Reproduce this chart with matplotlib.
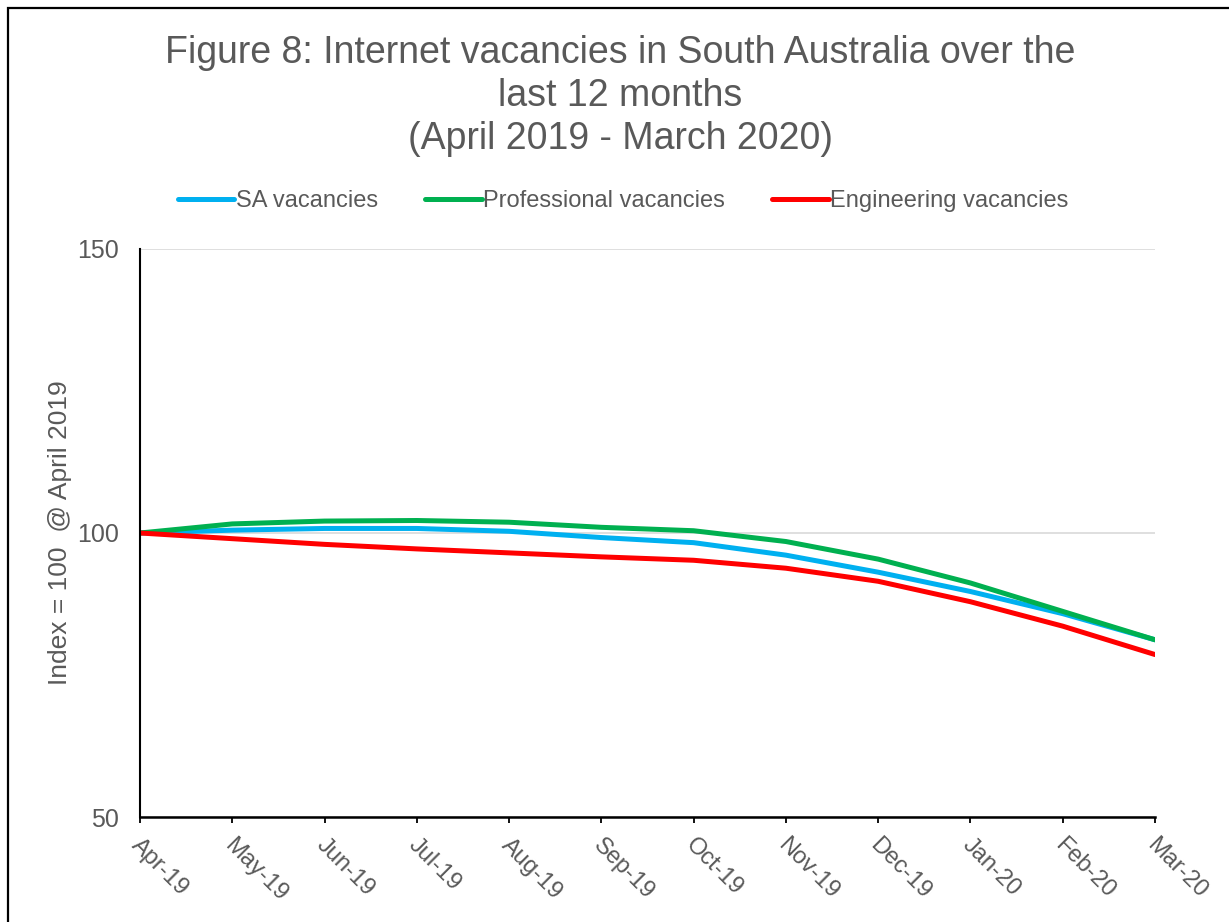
import matplotlib
matplotlib.use("Agg")
import matplotlib.pyplot as plt
from matplotlib.patches import Rectangle
from matplotlib.transforms import ScaledTranslation

plt.rcParams['font.family'] = ['Liberation Sans', 'DejaVu Sans']

months = ["Apr-19", "May-19", "Jun-19", "Jul-19", "Aug-19", "Sep-19",
          "Oct-19", "Nov-19", "Dec-19", "Jan-20", "Feb-20", "Mar-20"]
sa_vac = [100.0, 100.5, 100.8, 100.8, 100.3, 99.2, 98.3, 96.1, 93.1, 89.7, 85.8, 81.2]
prof_vac = [100.0, 101.6, 102.1, 102.2, 101.9, 101.0, 100.4, 98.5, 95.4, 91.2, 86.2, 81.2]
eng_vac = [100.0, 99.0, 98.0, 97.2, 96.5, 95.8, 95.2, 93.8, 91.5, 87.9, 83.6, 78.6]

series_names = ["SA vacancies", "Professional vacancies", "Engineering vacancies"]
colors = ["#00B0F0", "#00B050", "#FF0000"]

W, H = 1229, 922
fig = plt.figure(figsize=(W/100, H/100), dpi=100)
fig.patches.append(Rectangle((8/W, -0.1), 1.2, 1 - 8/H + 0.1, transform=fig.transFigure,
                             fill=False, edgecolor='black', linewidth=1.6))

ax = fig.add_axes([140/W, 1 - 817/H, (1155-140)/W, (817-249)/H])
x = list(range(len(months)))
for vals, name, c in zip([sa_vac, prof_vac, eng_vac], series_names, colors):
    ax.plot(x, vals, color=c, lw=3.6, label=name, solid_capstyle='round')

ax.set_xlim(0, len(months) - 1)
ax.set_ylim(50, 150)
ax.set_yticks([50, 100, 150])
ax.yaxis.grid(True, color='#D9D9D9', lw=1.2)
ax.set_axisbelow(True)
for s in ['top', 'right']:
    ax.spines[s].set_visible(False)
ax.spines['left'].set_color('black')
ax.spines['left'].set_linewidth(1.5)
ax.spines['bottom'].set_color('black')
ax.spines['bottom'].set_linewidth(1.8)
ax.tick_params(axis='y', length=0, labelsize=18, labelcolor='#595959', pad=15)
ax.tick_params(axis='x', direction='out', length=4.5, width=1.3, color='black',
               labelsize=17, labelcolor='#595959', pad=8)
ax.set_xticks(x)
ax.set_xticklabels(months, rotation=-45, ha='left', va='top', rotation_mode='anchor')
off = ScaledTranslation(3/100, 0, fig.dpi_scale_trans)
for lbl in ax.get_xticklabels():
    lbl.set_transform(lbl.get_transform() + off)
ax.set_ylabel("Index = 100  @ April 2019", fontsize=19, color='#595959', labelpad=4)

fig.text(620/W, 1 - 96/H,
         "Figure 8: Internet vacancies in South Australia over the\nlast 12 months\n(April 2019 - March 2020)",
         ha='center', va='center', fontsize=27, color='#595959', linespacing=1.25)

leg = fig.legend(loc='center', bbox_to_anchor=(623/W, 1 - 201/H), ncol=3, frameon=False,
                 fontsize=17, handlelength=2.4, handletextpad=0.05, columnspacing=2.0,
                 labelcolor='#595959')

fig.savefig("out.png", dpi=100)
